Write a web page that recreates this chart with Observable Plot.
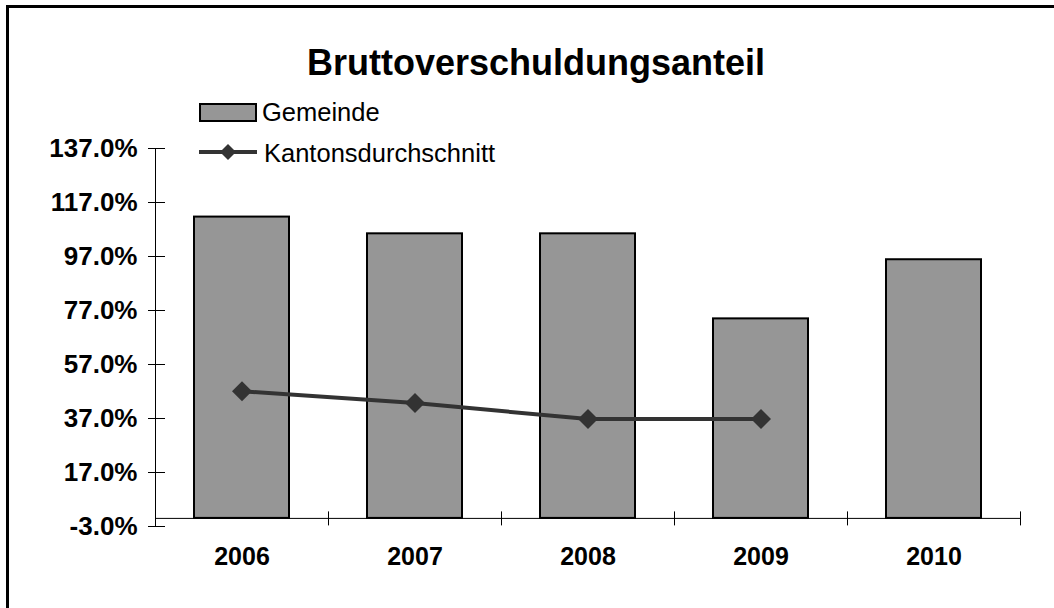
<!DOCTYPE html>
<html><head><meta charset="utf-8">
<script src="https://cdn.jsdelivr.net/npm/d3@7"></script>
<script src="https://cdn.jsdelivr.net/npm/@observablehq/plot@0.6"></script>
<style>
html,body{margin:0;padding:0;background:#fff;overflow:hidden}
body{font-family:"Liberation Sans",Arial,sans-serif;color:#000}
#wrap{position:relative;width:1054px;height:608px;overflow:hidden}
#border{position:absolute;left:5.5px;top:4.5px;width:1100px;height:700px;border:3px solid #000;box-sizing:border-box}
#title{position:absolute;left:0;width:1072px;top:43px;text-align:center;font-weight:bold;font-size:36px;line-height:40px;white-space:nowrap}
.leg{position:absolute;font-size:25.5px;line-height:28px;white-space:nowrap}
#chart{position:absolute;left:0;top:0}
</style></head>
<body>
<div id="wrap">
  <div id="chart"></div>
  <div id="border"></div>
  <div id="title">Bruttoverschuldungsanteil</div>
  <div id="legend"></div>
</div>
<script>
const years = ["2006", "2007", "2008", "2009", "2010"];
const gemeinde = [111.6, 105.4, 105.4, 73.9, 95.8];
const kantonYears = ["2006", "2007", "2008", "2009"];
const kanton = [47.1, 42.7, 36.8, 36.8];
const yTicks = [-3, 17, 37, 57, 77, 97, 117, 137];
const seriesNames = ["Gemeinde", "Kantonsdurchschnitt"];

const barData = years.map((yr, i) => ({year: yr, value: gemeinde[i]}));
const lineData = kantonYears.map((yr, i) => ({year: yr, value: kanton[i]}));

function axisLines(index, scales, values, dims) {
  const {x, y} = scales;
  const g = d3.create("svg:g").attr("stroke", "#000").attr("stroke-width", 1).attr("transform", "translate(0.5,0.5)");
  const x0 = dims.marginLeft;
  g.append("line").attr("x1", x0).attr("x2", x0).attr("y1", y(yTicks[yTicks.length - 1])).attr("y2", y(yTicks[0]));
  const step = x.step();
  years.forEach(yr => {
    const bx = Math.round(x(yr) + x.bandwidth() / 2 + step / 2);
    g.append("line").attr("x1", bx).attr("x2", bx).attr("y1", y(0) - 7).attr("y2", y(0) + 7);
  });
  return g.node();
}

const chart = Plot.plot({
  width: 1054,
  height: 608,
  marginLeft: 155,
  marginRight: 34,
  marginTop: 148,
  marginBottom: 82,
  style: {fontFamily: "Liberation Sans, Arial, sans-serif", color: "#000", background: "transparent", overflow: "visible"},
  x: {domain: years, paddingInner: 0.45, paddingOuter: 0.225, label: null},
  y: {domain: [yTicks[0], yTicks[yTicks.length - 1]], label: null},
  marks: [
    Plot.barY(barData, {x: "year", y: "value", fill: "#969696", stroke: "#000", strokeWidth: 2}),
    Plot.ruleY([0], {stroke: "#000", strokeWidth: 1}),
    axisLines,
    Plot.line(lineData, {x: "year", y: "value", stroke: "#333333", strokeWidth: 4}),
    Plot.dot(lineData, {x: "year", y: "value", symbol: "diamond2", r: 9, fill: "#333333", stroke: "none"}),
    Plot.axisY({ticks: yTicks, tickSize: 17, dx: 10, text: null, stroke: "#000"}),
    Plot.axisY({ticks: yTicks, tickSize: 0, tickPadding: 18, tickFormat: d => d.toFixed(1) + "%", fontSize: 26, fontWeight: "bold"}),
    Plot.axisX({tickSize: 0, tickPadding: 21, fontSize: 25, fontWeight: "bold"})
  ]
});
document.getElementById("chart").appendChild(chart);

// legend
const legend = document.getElementById("legend");
legend.innerHTML = `
  <div style="position:absolute;left:199px;top:103px;width:58px;height:19px;box-sizing:border-box;background:#969696;border:2px solid #000"></div>
  <div class="leg" style="left:262px;top:98px">${seriesNames[0]}</div>
  <svg style="position:absolute;left:195px;top:140px" width="66" height="24">
    <line x1="4" x2="62" y1="12" y2="12" stroke="#333333" stroke-width="4"/>
    <path d="M33,4 L41,12 L33,20 L25,12 Z" fill="#333333"/>
  </svg>
  <div class="leg" style="left:264px;top:139px">${seriesNames[1]}</div>`;
</script>
</body></html>
